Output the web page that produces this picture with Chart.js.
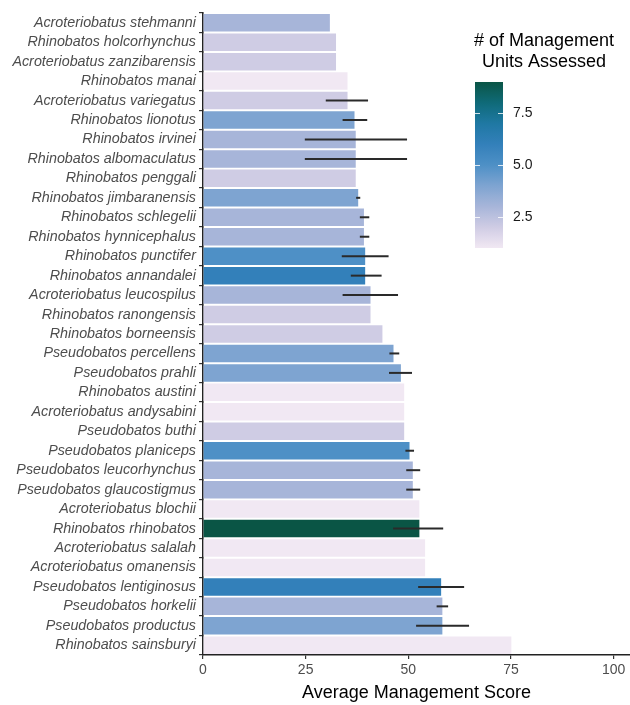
<!DOCTYPE html>
<html>
<head>
<meta charset="utf-8">
<script src="https://cdn.jsdelivr.net/npm/chart.js@4.4.0/dist/chart.umd.min.js"></script>
<style>
  html, body { margin: 0; padding: 0; background: #fff; }
  #wrap { width: 630px; height: 705px; }
</style>
</head>
<body>
<div id="wrap"><canvas id="chart"></canvas></div>
<script>
// ===== Data (top to bottom)
const species = [
  'Acroteriobatus stehmanni', 'Rhinobatos holcorhynchus', 'Acroteriobatus zanzibarensis',
  'Rhinobatos manai', 'Acroteriobatus variegatus', 'Rhinobatos lionotus', 'Rhinobatos irvinei',
  'Rhinobatos albomaculatus', 'Rhinobatos penggali', 'Rhinobatos jimbaranensis',
  'Rhinobatos schlegelii', 'Rhinobatos hynnicephalus', 'Rhinobatos punctifer',
  'Rhinobatos annandalei', 'Acroteriobatus leucospilus', 'Rhinobatos ranongensis',
  'Rhinobatos borneensis', 'Pseudobatos percellens', 'Pseudobatos prahli', 'Rhinobatos austini',
  'Acroteriobatus andysabini', 'Pseudobatos buthi', 'Pseudobatos planiceps',
  'Pseudobatos leucorhynchus', 'Pseudobatos glaucostigmus', 'Acroteriobatus blochii',
  'Rhinobatos rhinobatos', 'Acroteriobatus salalah', 'Acroteriobatus omanensis',
  'Pseudobatos lentiginosus', 'Pseudobatos horkelii', 'Pseudobatos productus', 'Rhinobatos sainsburyi'
];
const scores = [
  30.9, 32.4, 32.4, 35.2, 35.2, 36.9, 37.2, 37.2, 37.2, 37.8,
  39.2, 39.2, 39.5, 39.5, 40.8, 40.8, 43.7, 46.4, 48.2, 49.0,
  49.0, 49.0, 50.3, 51.1, 51.1, 52.7, 52.7, 54.1, 54.1, 58.0,
  58.3, 58.3, 75.1
];
const errLow = [
  null, null, null, null, 29.9, 34.0, 24.8, 24.8, null, 37.3,
  38.2, 38.2, 33.8, 36.0, 34.0, null, null, 45.4, 45.3, null,
  null, null, 49.3, 49.5, 49.5, null, 46.3, null, null, 52.4,
  56.9, 51.9, null
];
const errHigh = [
  null, null, null, null, 40.2, 40.0, 49.7, 49.7, null, 38.3,
  40.5, 40.5, 45.2, 43.5, 47.5, null, null, 47.8, 50.9, null,
  null, null, 51.4, 52.9, 52.9, null, 58.5, null, null, 63.6,
  59.7, 64.8, null
];
const unitsAssessed = [
  3, 2, 2, 1, 2, 4, 3, 3, 2, 4,
  3, 3, 5, 6, 3, 2, 2, 4, 4, 1,
  1, 2, 5, 3, 3, 1, 9, 1, 1, 6,
  3, 4, 1
];
const xTicks = [0, 25, 50, 75, 100];
const legendTicks = [2.5, 5.0, 7.5];
const unitsRange = [1, 9];

// ===== Colour ramp (units -> fill)
const rampStops = [
  [1, '#f1e8f3'], [2, '#cfcce4'], [3, '#a7b5d9'], [4, '#7ea4d1'], [5, '#4e90c6'],
  [6, '#3380ba'], [7, '#1f78a3'], [8, '#0f6a78'], [9, '#0a5545']
];
const hexToRgb = h => [1, 3, 5].map(i => parseInt(h.slice(i, i + 2), 16));
function rampColor(v) {
  for (let i = 0; i < rampStops.length - 1; i++) {
    const [v0, c0] = rampStops[i], [v1, c1] = rampStops[i + 1];
    if (v <= v1) {
      const t = Math.max(0, (v - v0) / (v1 - v0));
      const a = hexToRgb(c0), b = hexToRgb(c1);
      return 'rgb(' + a.map((x, k) => Math.round(x + (b[k] - x) * t)).join(',') + ')';
    }
  }
  return rampStops[rampStops.length - 1][1];
}

const FONT = "'Liberation Sans', Arial, Helvetica, sans-serif";

// ===== Error bars
const errorBars = {
  id: 'errorBars',
  afterDatasetsDraw(chart) {
    const { ctx, scales: { x, y } } = chart;
    ctx.save();
    ctx.strokeStyle = '#2a2a2a';
    ctx.lineWidth = 2;
    species.forEach((s, i) => {
      if (errLow[i] == null) return;
      const py = y.getPixelForValue(i);
      ctx.beginPath();
      ctx.moveTo(x.getPixelForValue(errLow[i]), py);
      ctx.lineTo(x.getPixelForValue(errHigh[i]), py);
      ctx.stroke();
    });
    ctx.restore();
  }
};

// ===== Colourbar legend
const colorbar = {
  id: 'colorbar',
  afterDraw(chart) {
    const ctx = chart.ctx;
    const bx = 475, bw = 28, top = 82, bottom = 248;
    const [lo, hi] = unitsRange;
    const toY = v => bottom - (v - lo) / (hi - lo) * (bottom - top);
    ctx.save();
    ctx.fillStyle = '#000';
    ctx.font = '18px ' + FONT;
    ctx.textAlign = 'center';
    ctx.textBaseline = 'middle';
    ctx.fillText('# of Management', 544, 41);
    ctx.fillText('Units Assessed', 544, 62);

    const grad = ctx.createLinearGradient(0, bottom, 0, top);
    for (let v = lo; v <= hi; v += 0.25) grad.addColorStop((v - lo) / (hi - lo), rampColor(v));
    ctx.fillStyle = grad;
    ctx.fillRect(bx, top, bw, bottom - top);

    ctx.strokeStyle = 'rgba(255,255,255,0.8)';
    ctx.lineWidth = 1;
    ctx.fillStyle = '#1a1a1a';
    ctx.font = '14px ' + FONT;
    ctx.textAlign = 'left';
    legendTicks.forEach(v => {
      const py = Math.round(toY(v)) + 0.5;
      ctx.beginPath();
      ctx.moveTo(bx, py); ctx.lineTo(bx + 5, py);
      ctx.moveTo(bx + bw - 5, py); ctx.lineTo(bx + bw, py);
      ctx.stroke();
      ctx.fillText(v.toFixed(1), 513, py);
    });
    ctx.restore();
  }
};

new Chart(document.getElementById('chart'), {
  type: 'bar',
  data: {
    labels: species,
    datasets: [{
      data: scores,
      backgroundColor: unitsAssessed.map(rampColor),
      borderWidth: 0,
      categoryPercentage: 1,
      barPercentage: 0.9
    }]
  },
  options: {
    indexAxis: 'y',
    responsive: true,
    maintainAspectRatio: false,
    animation: false,
    layout: { padding: { top: 13, right: 0, bottom: 0, left: 0 } },
    plugins: { legend: { display: false }, tooltip: { enabled: false } },
    scales: {
      x: {
        min: 0,
        max: 104,
        afterBuildTicks: s => { s.ticks = xTicks.map(v => ({ value: v })); },
        afterFit: s => { s.height = 50; },
        grid: { display: true, drawOnChartArea: false, drawTicks: true, tickLength: 4, color: '#333', lineWidth: 1.2 },
        border: { display: true, color: '#222', width: 1.6 },
        ticks: { color: '#4d4d4d', font: { family: FONT, size: 14 }, padding: 3 },
        title: {
          display: true,
          text: 'Average Management Score',
          color: '#000',
          font: { family: FONT, size: 18 },
          padding: { top: 0, bottom: 1 }
        }
      },
      y: {
        afterFit: s => { s.width = 203; },
        grid: { display: true, drawOnChartArea: false, drawTicks: true, tickLength: 4, color: '#333', lineWidth: 1.2 },
        border: { display: true, color: '#222', width: 1.6 },
        ticks: { color: '#4d4d4d', font: { family: FONT, size: 14.3, style: 'italic' }, padding: 3, autoSkip: false }
      }
    }
  },
  plugins: [errorBars, colorbar]
});
</script>
</body>
</html>
